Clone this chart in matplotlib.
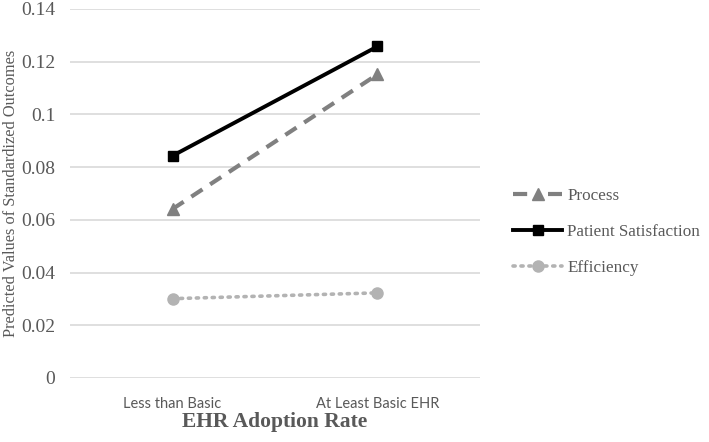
import matplotlib
matplotlib.use("Agg")
import matplotlib.pyplot as plt
from matplotlib.ticker import FixedLocator

categories   = ["Less than Basic", "At Least Basic EHR"]
process      = [0.0641, 0.1152]
satisfaction = [0.0843, 0.1258]
efficiency   = [0.0301, 0.0323]
yticks       = [0, 0.02, 0.04, 0.06, 0.08, 0.1, 0.12, 0.14]
ytick_labels = ["0", "0.02", "0.04", "0.06", "0.08", "0.1", "0.12", "0.14"]

SERIF = "Liberation Serif"
TXT   = "#595959"

fig = plt.figure(figsize=(7.09, 4.42), dpi=100)
ax = fig.add_axes([70/709, 1 - 378/442, 410/709, 369/442])

x = [0.5, 1.5]
ax.plot(x, process, color="#808080", lw=3, linestyle=(0, (3.2, 2.2)),
        marker="^", markersize=8, label="Process")
ax.plot(x, satisfaction, color="#000000", lw=2.8,
        marker="s", markersize=7.5, label="Patient Satisfaction")
ax.plot(x, efficiency, color="#b3b3b3", lw=2.6, linestyle=(0, (0.6, 1.6)),
        dash_capstyle="round", marker="o", markersize=8, label="Efficiency")

ax.set_xlim(0, 2)
ax.set_ylim(0, 0.14)
ax.yaxis.set_major_locator(FixedLocator(yticks))
ax.set_yticklabels(ytick_labels, family=SERIF, fontsize=14, color=TXT)
ax.set_xticks(x)
ax.set_xticklabels(categories, family="Lato", fontsize=10.5, color=TXT)
ax.tick_params(length=0, pad=10.5)
ax.tick_params(axis="x", pad=14)
ax.grid(axis="y", color="#d9d9d9", lw=1.2)
ax.set_axisbelow(True)
for s in ax.spines.values():
    s.set_visible(False)

ax.set_ylabel("Predicted Values of Standardized Outcomes", family=SERIF,
              fontsize=11.8, color=TXT)
ax.yaxis.set_label_coords(-51/410, 0.5)
ax.set_xlabel("EHR Adoption Rate", family=SERIF, fontsize=15.5,
              fontweight="bold", color=TXT)
ax.xaxis.set_label_coords(0.5, -34/369)

leg = ax.legend(loc="center left", bbox_to_anchor=(1.043, 1 - (232 - 9)/369),
                frameon=False, prop={"family": SERIF, "size": 12.3},
                labelcolor=TXT, handlelength=2.87, labelspacing=1.15,
                handletextpad=0.3)
# dash - marker - dash, like the original legend key
leg.get_lines()[0].set_linestyle((0, (3.4, 5.0)))

fig.savefig("out.png", dpi=100, facecolor="white")
